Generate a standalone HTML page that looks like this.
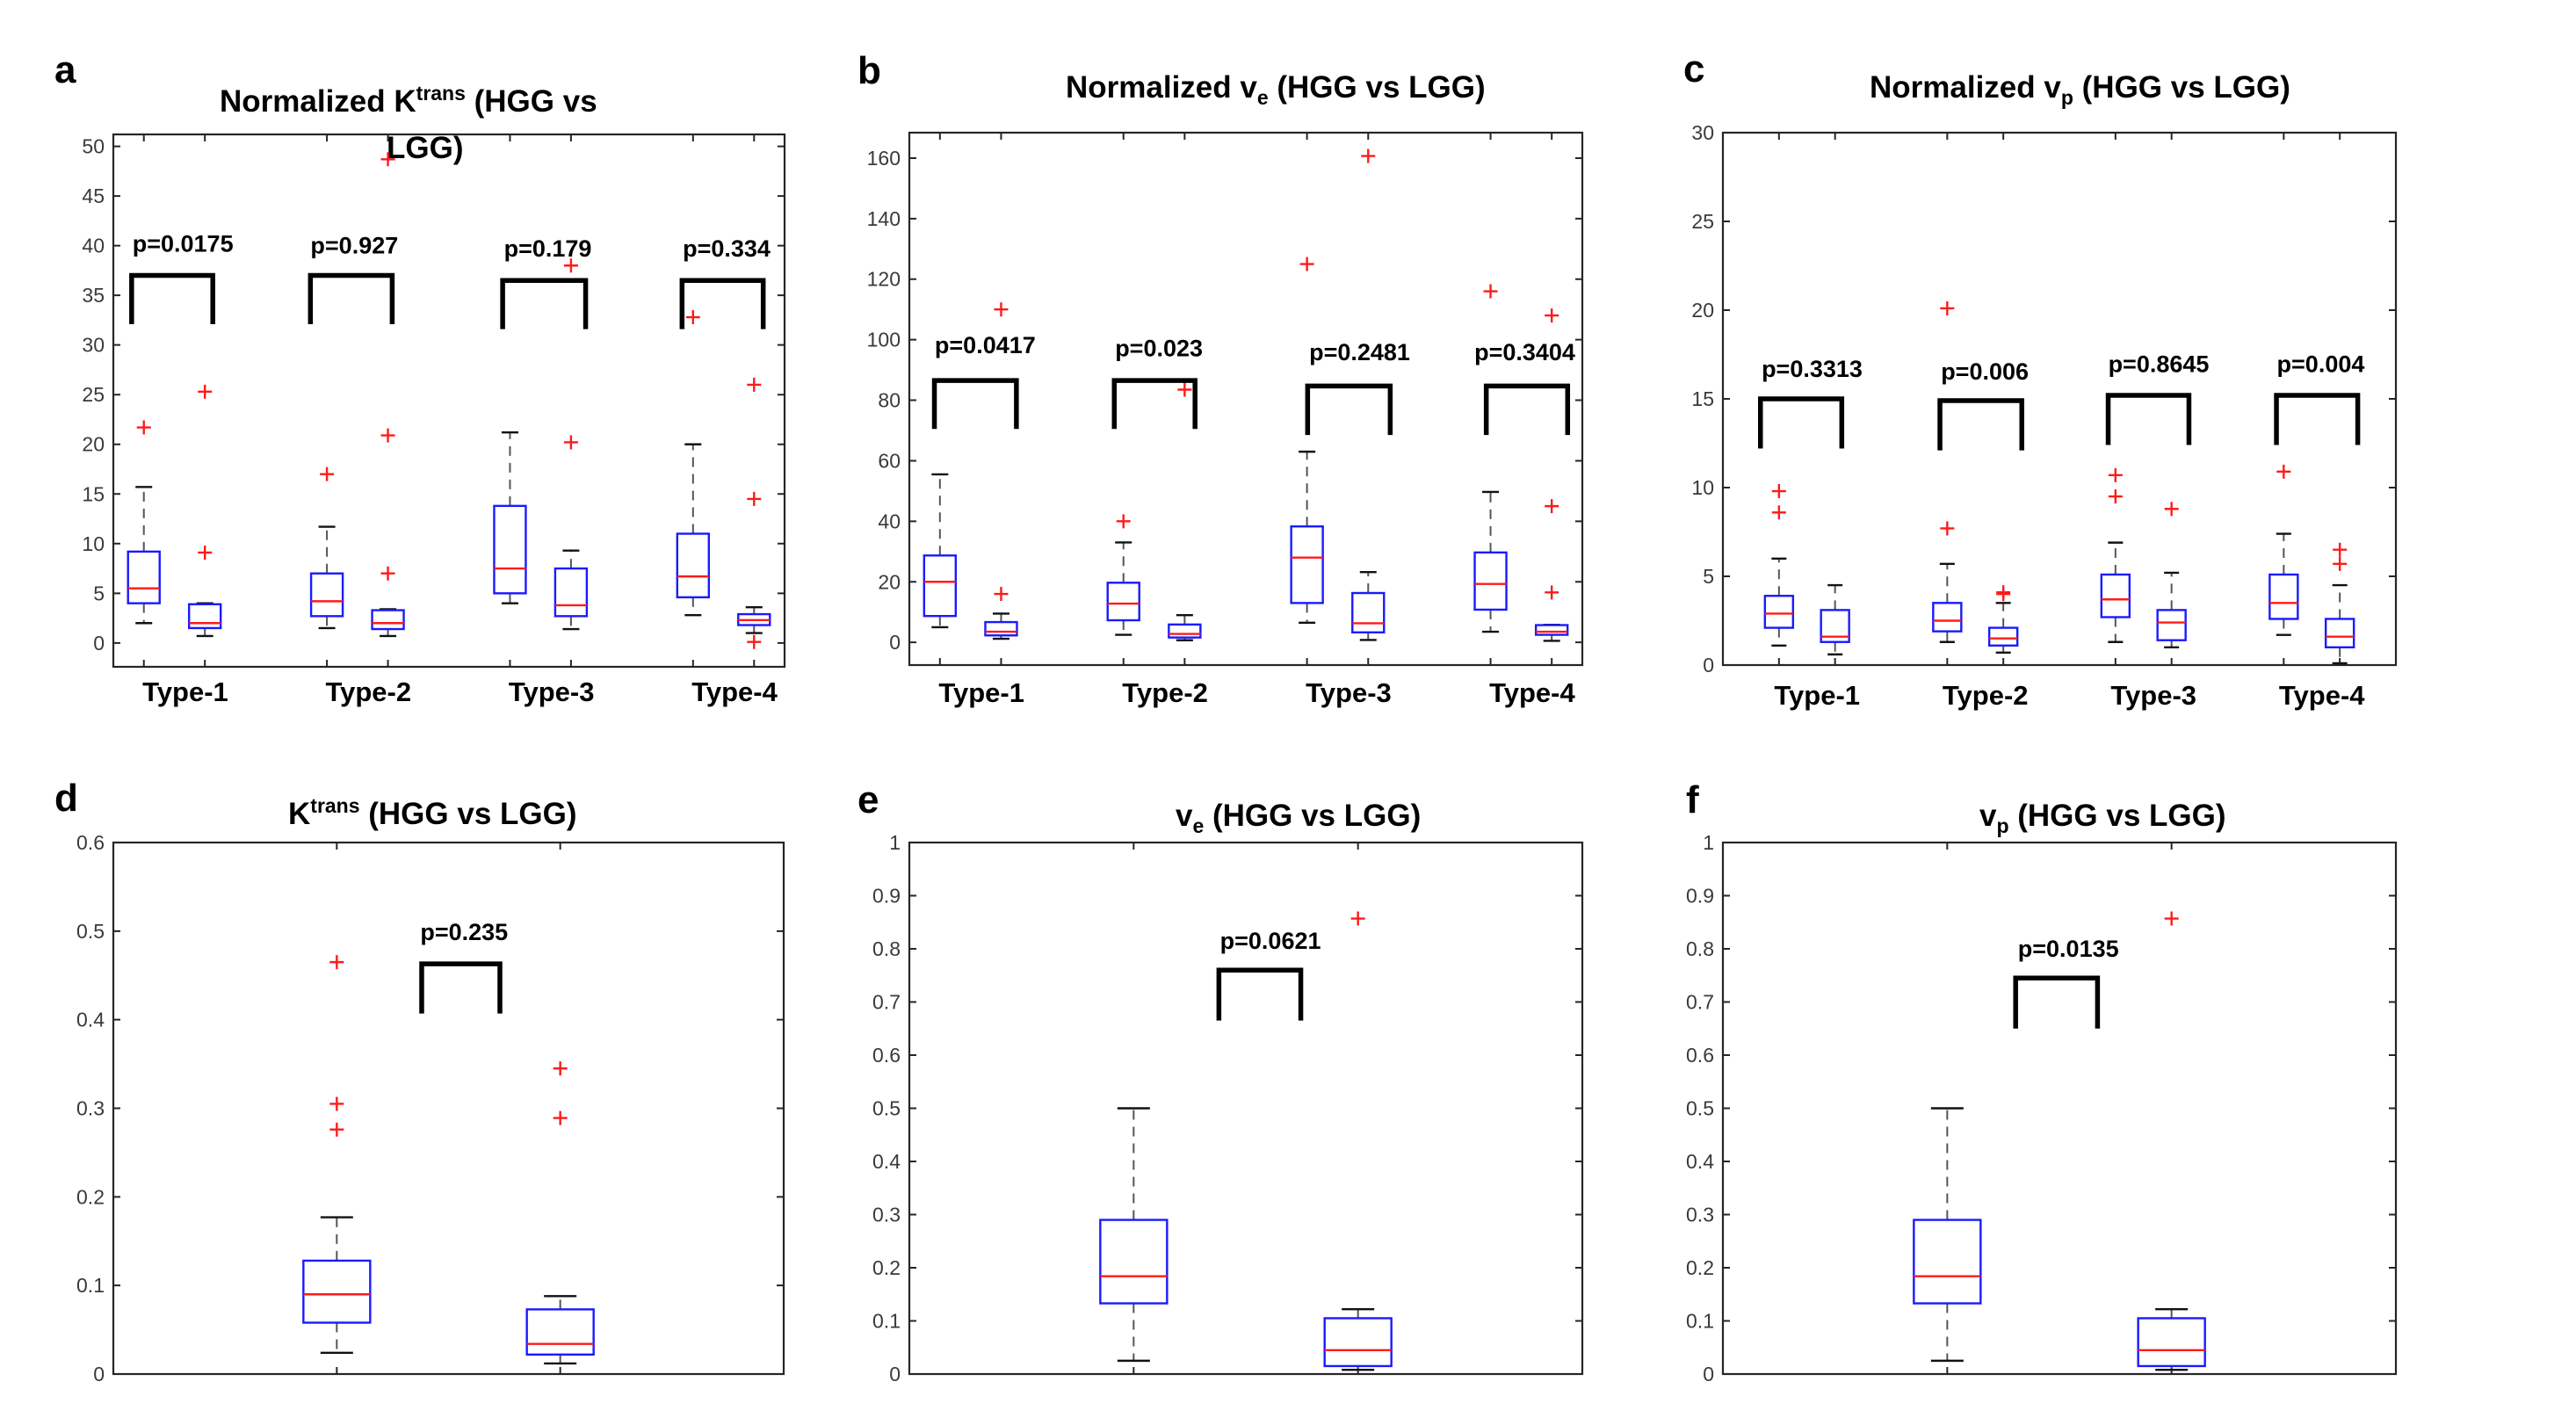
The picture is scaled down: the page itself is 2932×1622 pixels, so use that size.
<!DOCTYPE html>
<html><head><meta charset="utf-8">
<style>
html,body{margin:0;padding:0;background:#fff;}
svg{display:block;}
.t{font-family:"Liberation Sans",sans-serif;font-weight:bold;fill:#000;}
.tick{font-family:"Liberation Sans",sans-serif;font-size:23px;fill:#3a3a3a;}
</style></head>
<body>
<svg id="fig" width="2932" height="1622" viewBox="0 0 2932 1622" xmlns="http://www.w3.org/2000/svg">
<rect x="0" y="0" width="2932" height="1622" fill="#fff"/>
<!-- panel letters -->
<text class="t" x="62" y="94" font-size="44">a</text>
<text class="t" x="976" y="95" font-size="44">b</text>
<text class="t" x="1916" y="93" font-size="44">c</text>
<text class="t" x="62" y="923" font-size="44">d</text>
<text class="t" x="976" y="925" font-size="44">e</text>
<text class="t" x="1919" y="925" font-size="44">f</text>
<!-- titles -->
<text class="t" x="250" y="127" font-size="35">Normalized K<tspan font-size="23" dy="-13">trans</tspan><tspan dy="13"> (HGG vs</tspan></text>
<text class="t" x="440" y="180" font-size="35">LGG)</text>
<text class="t" x="1213" y="111" font-size="35">Normalized v<tspan font-size="23" dy="8">e</tspan><tspan dy="-8"> (HGG vs LGG)</tspan></text>
<text class="t" x="2128" y="111" font-size="35">Normalized v<tspan font-size="23" dy="8">p</tspan><tspan dy="-8"> (HGG vs LGG)</tspan></text>
<text class="t" x="328" y="938" font-size="35">K<tspan font-size="23" dy="-13">trans</tspan><tspan dy="13"> (HGG vs LGG)</tspan></text>
<text class="t" x="1338" y="940" font-size="35">v<tspan font-size="23" dy="8">e</tspan><tspan dy="-8"> (HGG vs LGG)</tspan></text>
<text class="t" x="2253" y="940" font-size="35">v<tspan font-size="23" dy="8">p</tspan><tspan dy="-8"> (HGG vs LGG)</tspan></text>
</svg>
<script>
// ---------- Panel a data ----------
const a_lo  = [2, 0.7, 1.5, 0.7, 4, 1.4, 2.8, 1.0];
const a_q1  = [4, 1.5, 2.7, 1.4, 5, 2.7, 4.6, 1.8];
const a_med = [5.5, 2, 4.2, 2, 7.5, 3.8, 6.7, 2.3];
const a_q3  = [9.2, 3.9, 7, 3.3, 13.8, 7.5, 11, 2.9];
const a_hi  = [15.7, 4, 11.7, 3.4, 21.2, 9.3, 20, 3.6];
const a_out = [[21.7], [9.1, 25.3], [17], [7, 20.9, 48.7], [], [20.2, 38], [32.8], [0.1, 14.5, 26]];
const a_pText = ["p=0.0175", "p=0.927", "p=0.179", "p=0.334"];
const a_pX = [1.64, 4.45, 7.62, 10.55];
const a_pY = [39.4, 39.2, 38.9, 38.9];
const a_brL = [0.8, 3.73, 6.88, 9.82];
const a_brR = [2.13, 5.07, 8.24, 11.15];
const a_brTop = [37.0, 37.0, 36.5, 36.5];
const a_brBot = [32.1, 32.1, 31.6, 31.6];
const a_ticks = [0, 5, 10, 15, 20, 25, 30, 35, 40, 45, 50];

// ---------- Panel b data ----------
const b_lo  = [5, 1.2, 2.5, 0.7, 6.5, 0.8, 3.5, 0.5];
const b_q1  = [8.7, 2.3, 7.3, 1.6, 13, 3.3, 10.8, 2.5];
const b_med = [20, 3.5, 12.8, 2.8, 28, 6.3, 19.3, 3.5];
const b_q3  = [28.7, 6.7, 19.7, 5.9, 38.3, 16.3, 29.7, 5.7];
const b_hi  = [55.5, 9.5, 33, 9, 63, 23.2, 49.7, 5.8];
const b_out = [[], [16, 110], [40], [83.5], [125], [160.7], [116], [16.5, 45, 108]];
const b_pText = ["p=0.0417", "p=0.023", "p=0.2481", "p=0.3404"];
const b_pX = [1.74, 4.58, 7.86, 10.56];
const b_pY = [95.5, 94.6, 93.2, 93.2];
const b_brL = [0.91, 3.85, 7.01, 9.93];
const b_brR = [2.25, 5.17, 8.36, 11.26];
const b_brTop = [86.5, 86.5, 84.7, 84.7];
const b_brBot = [70.5, 70.5, 68.5, 68.5];
const b_ticks = [0, 20, 40, 60, 80, 100, 120, 140, 160];

// ---------- Panel c data ----------
const c_lo  = [1.1, 0.6, 1.3, 0.7, 1.3, 1.0, 1.7, 0.1];
const c_q1  = [2.1, 1.3, 1.9, 1.1, 2.7, 1.4, 2.6, 1.0];
const c_med = [2.9, 1.6, 2.5, 1.5, 3.7, 2.4, 3.5, 1.6];
const c_q3  = [3.9, 3.1, 3.5, 2.1, 5.1, 3.1, 5.1, 2.6];
const c_hi  = [6, 4.5, 5.7, 3.5, 6.9, 5.2, 7.4, 4.5];
const c_out = [[8.6, 9.8], [], [7.7, 20.1], [4.0, 4.1], [9.5, 10.7], [8.8], [10.9], [5.7, 6.5]];
const c_pText = ["p=0.3313", "p=0.006", "p=0.8645", "p=0.004"];
const c_pX = [1.59, 4.67, 7.77, 10.66];
const c_pY = [16.25, 16.1, 16.5, 16.5];
const c_brL = [0.67, 3.87, 6.87, 9.87];
const c_brR = [2.12, 5.33, 8.31, 11.32];
const c_brTop = [15.0, 14.9, 15.2, 15.2];
const c_brBot = [12.2, 12.1, 12.4, 12.4];
const c_ticks = [0, 5, 10, 15, 20, 25, 30];

// ---------- Panel d data ----------
const d_lo  = [0.024, 0.012];
const d_q1  = [0.058, 0.022];
const d_med = [0.09, 0.034];
const d_q3  = [0.128, 0.073];
const d_hi  = [0.177, 0.088];
const d_out = [[0.276, 0.305, 0.465], [0.289, 0.345]];
const d_pText = ["p=0.235"];
const d_pX = [1.57];
const d_pY = [0.49];
const d_brL = [1.38];
const d_brR = [1.73];
const d_brTop = [0.463];
const d_brBot = [0.407];
const d_ticks = [0, 0.1, 0.2, 0.3, 0.4, 0.5, 0.6];

// ---------- Panel e data ----------
const e_lo  = [0.025, 0.008];
const e_q1  = [0.133, 0.015];
const e_med = [0.184, 0.045];
const e_q3  = [0.29, 0.105];
const e_hi  = [0.5, 0.122];
const e_out = [[], [0.857]];
const e_pText = ["p=0.0621"];
const e_pX = [1.61];
const e_pY = [0.80];
const e_brL = [1.38];
const e_brR = [1.745];
const e_brTop = [0.76];
const e_brBot = [0.665];
const e_ticks = [0, 0.1, 0.2, 0.3, 0.4, 0.5, 0.6, 0.7, 0.8, 0.9, 1];

// ---------- Panel f data ----------
const f_lo  = [0.025, 0.008];
const f_q1  = [0.133, 0.015];
const f_med = [0.184, 0.045];
const f_q3  = [0.29, 0.105];
const f_hi  = [0.5, 0.122];
const f_out = [[], [0.857]];
const f_pText = ["p=0.0135"];
const f_pX = [1.54];
const f_pY = [0.785];
const f_brL = [1.305];
const f_brR = [1.67];
const f_brTop = [0.745];
const f_brBot = [0.65];
const f_ticks = [0, 0.1, 0.2, 0.3, 0.4, 0.5, 0.6, 0.7, 0.8, 0.9, 1];

const typeLabels = ["Type-1", "Type-2", "Type-3", "Type-4"];
const groupPositions = [1, 2, 4, 5, 7, 8, 10, 11];

const NS = "http://www.w3.org/2000/svg";
const svg = document.getElementById("fig");
function mk(tag, attrs, parent) {
  const el = document.createElementNS(NS, tag);
  for (const k in attrs) el.setAttribute(k, attrs[k]);
  (parent || svg).appendChild(el);
  return el;
}

function drawPanel(id, layout, D) {
  const g = mk("g", {});
  
  
  const L = layout;
  const xs = v => L.left + (v - L.xmin) / (L.xmax - L.xmin) * (L.right - L.left);
  const ys = v => L.bottom - (v - L.ymin) / (L.ymax - L.ymin) * (L.bottom - L.top);
  const unit = (L.right - L.left) / (L.xmax - L.xmin);
  // axes box
  const box = mk("rect", {x: L.left, y: L.top, width: L.right - L.left, height: L.bottom - L.top, fill: "none", stroke: "#262626", "stroke-width": 2.2}, g);
  
  
  // y ticks
  D.ticks.forEach(t => {
    const y = ys(t);
    const tk = mk("path", {d: `M${L.left} ${y}h8M${L.right} ${y}h-8`, stroke: "#262626", "stroke-width": 2}, g);
    
    
    const lb = mk("text", {x: L.left - 10, y: y + 8, "text-anchor": "end", class: "tick"}, g);
    lb.textContent = String(t);
    
    
  });
  // x ticks
  D.pos.forEach(p => {
    const x = xs(p);
    const tk = mk("path", {d: `M${x} ${L.bottom}v-8M${x} ${L.top}v8`, stroke: "#262626", "stroke-width": 2}, g);
    
    
  });
  // boxes
  const bw = L.boxW, cw = L.capW;
  D.pos.forEach((p, i) => {
    const x = xs(p);
    const bg = mk("g", {}, g);
    
    
    const dash = {stroke: "#555", "stroke-width": 2, "stroke-dasharray": "11 8"};
    mk("line", Object.assign({x1: x, x2: x, y1: ys(D.q3[i]), y2: ys(D.hi[i])}, dash), bg);
    mk("line", Object.assign({x1: x, x2: x, y1: ys(D.q1[i]), y2: ys(D.lo[i])}, dash), bg);
    mk("line", {x1: x - cw / 2, x2: x + cw / 2, y1: ys(D.hi[i]), y2: ys(D.hi[i]), stroke: "#111", "stroke-width": 2.4}, bg);
    mk("line", {x1: x - cw / 2, x2: x + cw / 2, y1: ys(D.lo[i]), y2: ys(D.lo[i]), stroke: "#111", "stroke-width": 2.4}, bg);
    mk("rect", {x: x - bw / 2, y: ys(D.q3[i]), width: bw, height: ys(D.q1[i]) - ys(D.q3[i]), fill: "none", stroke: "#1a1aff", "stroke-width": 2.4}, bg);
    mk("line", {x1: x - bw / 2, x2: x + bw / 2, y1: ys(D.med[i]), y2: ys(D.med[i]), stroke: "#ff1a1a", "stroke-width": 2.4}, bg);
    D.out[i].forEach(o => {
      const y = ys(o);
      const pl = mk("path", {d: `M${x - 8} ${y}h16M${x} ${y - 8}v16`, stroke: "#ff1a1a", "stroke-width": 2.4}, bg);
      
      
    });
  });
  // brackets & p-values
  D.pText.forEach((t, i) => {
    const br = mk("path", {d: `M${xs(D.brL[i])} ${ys(D.brBot[i])}V${ys(D.brTop[i])}H${xs(D.brR[i])}V${ys(D.brBot[i])}`, fill: "none", stroke: "#000", "stroke-width": 5.5}, g);
    
    
    const pt = mk("text", {x: xs(D.pX[i]), y: ys(D.pY[i]), "text-anchor": "middle", class: "t", "font-size": 27}, g);
    pt.textContent = t;
    
    
  });
  // category labels
  if (L.cats) {
    L.cats.forEach((c, k) => {
      const ct = mk("text", {x: xs(D.pos[2 * k] + 0.68), y: L.catY, "text-anchor": "middle", class: "t", "font-size": 31}, g);
      ct.textContent = c;
      
      
    });
  }
}

drawPanel("a", {left: 129, right: 893, top: 153, bottom: 759, xmin: 0.5, xmax: 11.5, ymin: -2.4, ymax: 51.2, boxW: 36, capW: 19, cats: typeLabels, catY: 798},
  {pos: groupPositions, lo: a_lo, q1: a_q1, med: a_med, q3: a_q3, hi: a_hi, out: a_out, pText: a_pText, pX: a_pX, pY: a_pY, brL: a_brL, brR: a_brR, brTop: a_brTop, brBot: a_brBot, ticks: a_ticks});
drawPanel("b", {left: 1035, right: 1801, top: 151, bottom: 757, xmin: 0.5, xmax: 11.5, ymin: -7.5, ymax: 168.4, boxW: 36, capW: 19, cats: typeLabels, catY: 799},
  {pos: groupPositions, lo: b_lo, q1: b_q1, med: b_med, q3: b_q3, hi: b_hi, out: b_out, pText: b_pText, pX: b_pX, pY: b_pY, brL: b_brL, brR: b_brR, brTop: b_brTop, brBot: b_brBot, ticks: b_ticks});
drawPanel("c", {left: 1961, right: 2727, top: 151, bottom: 757, xmin: 0, xmax: 12, ymin: 0, ymax: 30, boxW: 32, capW: 17, cats: typeLabels, catY: 802},
  {pos: groupPositions, lo: c_lo, q1: c_q1, med: c_med, q3: c_q3, hi: c_hi, out: c_out, pText: c_pText, pX: c_pX, pY: c_pY, brL: c_brL, brR: c_brR, brTop: c_brTop, brBot: c_brBot, ticks: c_ticks});
drawPanel("d", {left: 129, right: 892, top: 959, bottom: 1564, xmin: 0, xmax: 3, ymin: 0, ymax: 0.6, boxW: 76, capW: 37},
  {pos: [1, 2], lo: d_lo, q1: d_q1, med: d_med, q3: d_q3, hi: d_hi, out: d_out, pText: d_pText, pX: d_pX, pY: d_pY, brL: d_brL, brR: d_brR, brTop: d_brTop, brBot: d_brBot, ticks: d_ticks});
drawPanel("e", {left: 1035, right: 1801, top: 959, bottom: 1564, xmin: 0, xmax: 3, ymin: 0, ymax: 1, boxW: 76, capW: 37},
  {pos: [1, 2], lo: e_lo, q1: e_q1, med: e_med, q3: e_q3, hi: e_hi, out: e_out, pText: e_pText, pX: e_pX, pY: e_pY, brL: e_brL, brR: e_brR, brTop: e_brTop, brBot: e_brBot, ticks: e_ticks});
drawPanel("f", {left: 1961, right: 2727, top: 959, bottom: 1564, xmin: 0, xmax: 3, ymin: 0, ymax: 1, boxW: 76, capW: 37},
  {pos: [1, 2], lo: f_lo, q1: f_q1, med: f_med, q3: f_q3, hi: f_hi, out: f_out, pText: f_pText, pX: f_pX, pY: f_pY, brL: f_brL, brR: f_brR, brTop: f_brTop, brBot: f_brBot, ticks: f_ticks});
</script>
</body></html>
